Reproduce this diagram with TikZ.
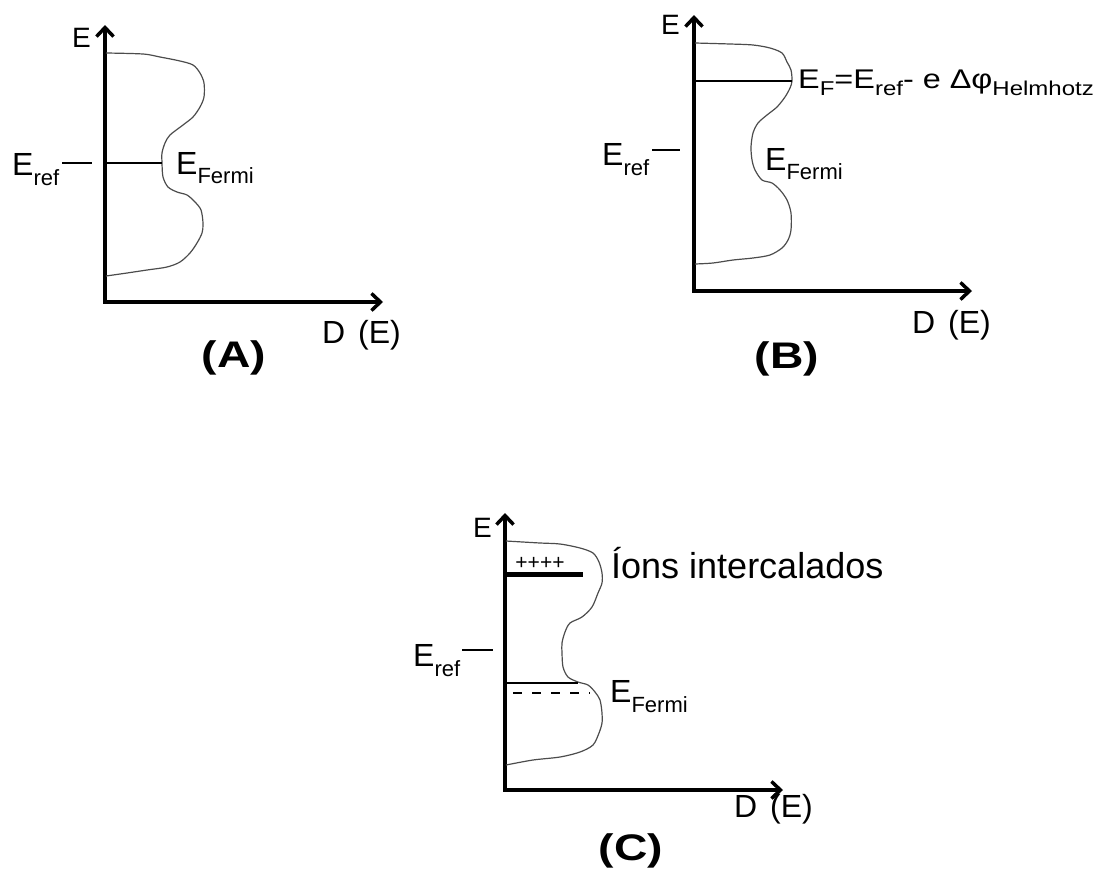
\documentclass[tikz,border=0pt]{standalone}
\usepackage{fontspec}
\setmainfont{Liberation Sans}
\usetikzlibrary{arrows.meta}
\newcommand{\lowsub}[3]{\raisebox{-#1pt}{\fontsize{#2}{#2}\selectfont #3}}
\newcommand{\fsz}[1]{\fontsize{#1}{#1}\selectfont}
\begin{document}
\begin{tikzpicture}[x=1pt,y=-1pt,
  axis/.style={line width=3.5pt, line join=miter,
    {Straight Barb[length=9pt,width=17pt]}-{Straight Barb[length=9pt,width=17pt]}},
  dos/.style={line width=1.2pt, black!70},
  level/.style={line width=2pt},
  thicklevel/.style={line width=5pt},
  tickmark/.style={line width=1.5pt},
  lbl/.style={inner sep=0pt, anchor=base west},
  elabel/.style={lbl, font=\fsz{28}},
  biglabel/.style={lbl, font=\fsz{32}},
  dlabel/.style={lbl, font=\fsz{32}},
  panel/.style={inner sep=0pt, anchor=base, font=\fsz{37}\bfseries}]
\useasboundingbox (0,0) rectangle (1099,870);

% ---------------- Panel A ----------------
\coordinate (oA) at (105,302);
\coordinate (yA) at (105,25);
\coordinate (xA) at (383,302);
\draw[axis] (yA) -- (oA) -- (xA);
\draw[dos] plot[smooth, tension=0.5] coordinates {
 (106,53) (143,54) (160,57) (180,61) (193,65) (200,73) (204,83) (204,97)
 (200,107) (193,117) (183,125) (170,135) (165,143) (162,153) (162,163)
 (163,177) (168,187) (177,192) (187,195) (195,202) (201,210) (203,223)
 (202,233) (197,243) (190,253) (180,262) (167,267) (147,270) (127,273) (106,276)};
\coordinate (fA0) at (105,163);
\coordinate (fA1) at (162,163);
\draw[level] (fA0) -- (fA1);
\coordinate (rA0) at (62,163);
\coordinate (rA1) at (92,163);
\draw[tickmark] (rA0) -- (rA1);
\node[elabel] (EA) at (72,47) {E};
\node[biglabel] (erefA) at (12,175) {E\lowsub{10}{22}{ref}};
\node[biglabel] (efA) at (176,174) {E\lowsub{9}{22}{Fermi}};
\node[dlabel] (dA) at (322,343) {D\hspace{4pt} (E)};
\node[panel] (pA) at (234,367) {\scalebox{1.25}[1]{(A)}};

% ---------------- Panel B ----------------
\coordinate (oB) at (694,291);
\coordinate (yB) at (694,15);
\coordinate (xB) at (972,291);
\draw[axis] (yB) -- (oB) -- (xB);
\draw[dos] plot[smooth, tension=0.5] coordinates {
 (695,43) (730,44) (753,45) (770,48) (782,53) (787,62) (791,70) (792,81)
 (790,88) (785,97) (777,107) (767,115) (758,123) (753,133) (751,147)
 (752,160) (755,170) (762,180) (772,183) (780,190) (787,200) (791,213)
 (791,230) (788,240) (782,248) (770,255) (753,258) (733,260) (713,263) (695,264)};
\coordinate (fB0) at (694,81);
\coordinate (fB1) at (792,81);
\draw[level] (fB0) -- (fB1);
\coordinate (rB0) at (652,150);
\coordinate (rB1) at (680,150);
\draw[tickmark] (rB0) -- (rB1);
\node[elabel] (EB) at (661,34) {E};
\node[biglabel] (erefB) at (602,165) {E\lowsub{10}{22}{ref}};
\node[biglabel] (efB) at (765,170) {E\lowsub{9}{22}{Fermi}};
\node[lbl, font=\fsz{27}] (efeqB) at (798,88)
  {\scalebox{1.2}[1]{E\lowsub{7}{20}{F}=E\lowsub{7}{20}{ref}- e Δφ\lowsub{7}{20}{Helmhotz}}};
\node[dlabel] (dB) at (912,333) {D\hspace{4pt} (E)};
\node[panel] (pB) at (787,368) {\scalebox{1.25}[1]{(B)}};

% ---------------- Panel C ----------------
\coordinate (oC) at (505,790);
\coordinate (yC) at (505,513);
\coordinate (xC) at (783,790);
\draw[axis] (yC) -- (oC) -- (xC);
\draw[dos] plot[smooth, tension=0.5] coordinates {
 (506,541) (540,543) (560,544) (580,548) (593,553) (599,562) (602,573)
 (602,583) (598,593) (592,607) (582,617) (570,623) (565,632) (562,643)
 (562,653) (563,667) (568,677) (578,682) (588,685) (595,692) (600,700)
 (602,713) (602,723) (599,733) (593,745) (580,752) (560,757) (533,760) (506,765)};
\coordinate (iC0) at (505,574);
\coordinate (iC1) at (583,574);
\draw[thicklevel] (iC0) -- (iC1);
\node[inner sep=0pt, font=\fsz{21}] (plusC) at (540,563) {++++};
\coordinate (fC0) at (505,683);
\coordinate (fC1) at (578,683);
\draw[level] (fC0) -- (fC1);
\coordinate (dC0) at (513,693);
\coordinate (dC1) at (590,693);
\draw[line width=2.5pt, dash pattern=on 9pt off 10pt] (dC0) -- (dC1);
\coordinate (rC0) at (462,650);
\coordinate (rC1) at (493,650);
\draw[tickmark] (rC0) -- (rC1);
\node[elabel] (EC) at (473,537) {E};
\node[biglabel] (erefC) at (413,666) {E\lowsub{10}{22}{ref}};
\node[biglabel] (efC) at (610,702) {E\lowsub{10}{22}{Fermi}};
\node[lbl, font=\fsz{36}] (ionsC) at (611,578) {Íons intercalados};
\node[dlabel] (dC) at (734,817) {D\hspace{4pt} (E)};
\node[panel] (pC) at (631,860) {\scalebox{1.25}[1]{(C)}};
\end{tikzpicture}
\end{document}
